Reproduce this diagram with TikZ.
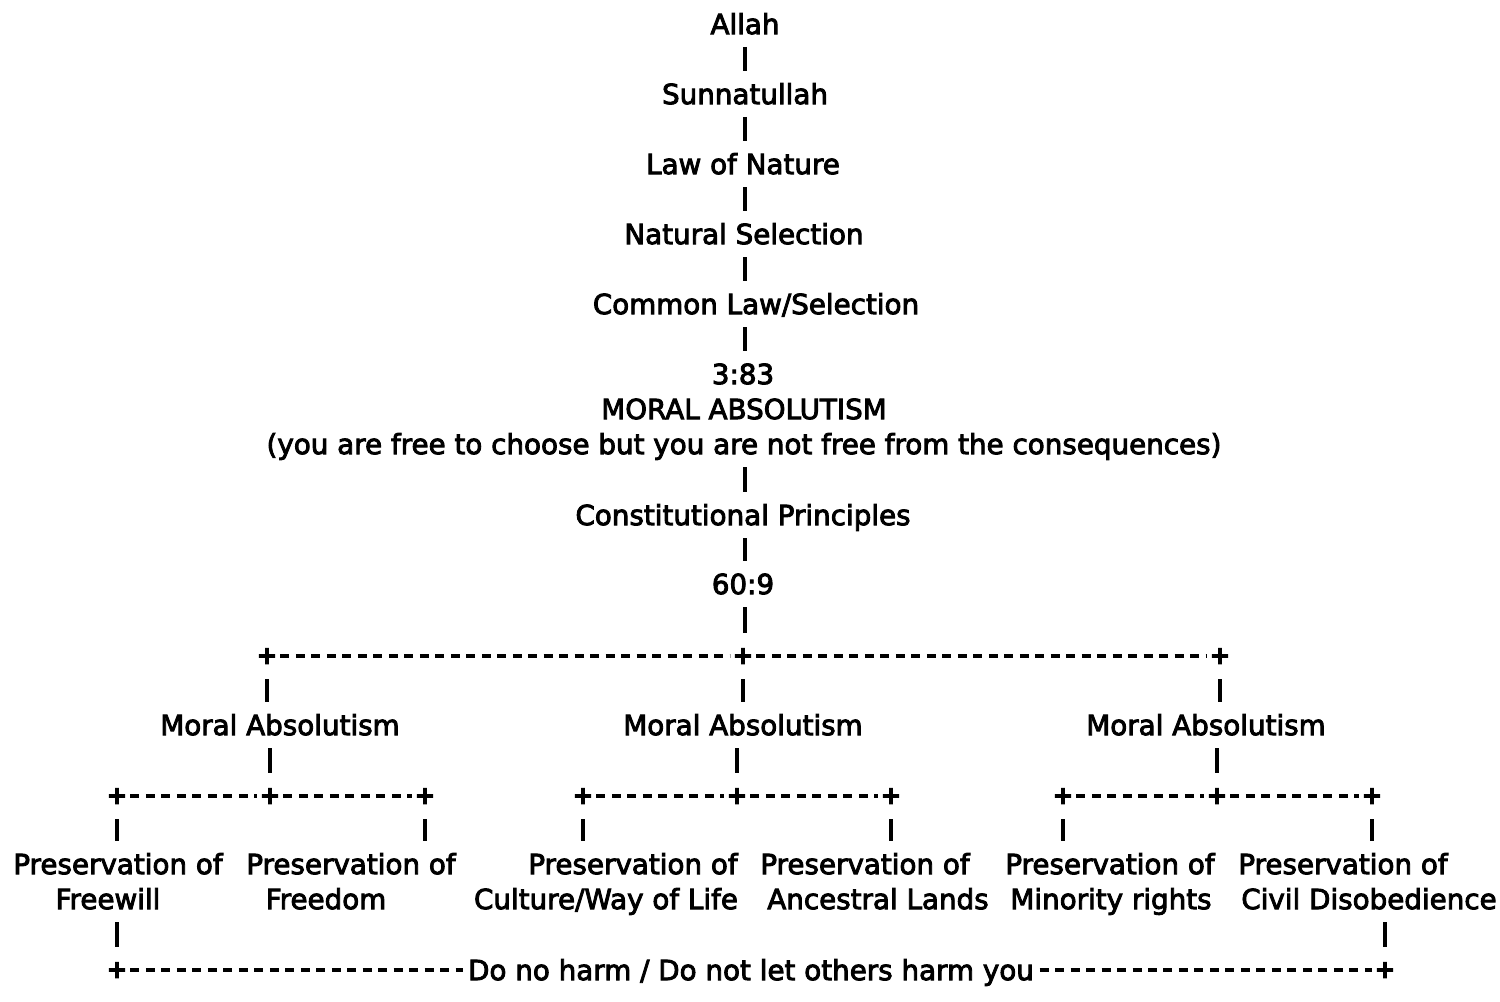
\documentclass[tikz,border=0pt]{standalone}
\usepackage{fontspec}
\setmainfont{DejaVu Sans}
\newfontfamily\heavyfont{DejaVu Sans}
\newfontfamily\plusfont{DejaVu Sans}

\begin{document}
\begin{tikzpicture}[x=0.02cm,y=-0.02cm,
	txt/.style={font=\heavyfont\fontsize{15.8}{19}\selectfont, inner sep=0pt, text height=11.5pt, text depth=0pt,
		execute at begin node={\special{pdf:literal direct 2 Tr 0.5 w}},
		execute at end node={\special{pdf:literal direct 0 Tr}}},
	plus/.style={font=\plusfont\fontsize{14}{14}\selectfont\bfseries, inner sep=1.5pt,
		execute at begin node={\special{pdf:literal direct 2 Tr 0.6 w}},
		execute at end node={\special{pdf:literal direct 0 Tr}}},
	bar/.style={line width=2pt, shorten <=0.46cm, shorten >=0.46cm},
	dashline/.style={line width=2pt, dash pattern=on 0.18cm off 0.13cm}]
				\useasboundingbox (0,0) rectangle (1500,1001);

				% main column
				\node[txt] (allah) at (745,24) {Allah};
				\node[txt] (sunnatullah) at (745,94) {Sunnatullah};
				\node[txt] (nature) at (743,164) {Law of Nature};
				\node[txt] (naturalsel) at (744,234) {Natural Selection};
				\node[txt] (commonlaw) at (756,304) {Common Law/Selection};
				\node[txt] (verseA) at (743,374) {3:83};
				\node[txt] (absolutism) at (744,409) {MORAL ABSOLUTISM};
				\node[txt] (consequences) at (744,444) {(you are free to choose but you are not free from the consequences)};
				\node[txt] (constitution) at (743,515) {Constitutional Principles};
				\node[txt] (verseB) at (743,584) {60:9};

				\foreach \a/\b in {allah/sunnatullah, sunnatullah/nature, nature/naturalsel,
						naturalsel/commonlaw, commonlaw/verseA, consequences/constitution,
						constitution/verseB}
					{
						\draw[bar] (\a.center -| allah.center) -- (\b.center -| allah.center);
					}

				% first split
				\node[plus] (ptl) at (267,656) {+};
				\node[plus] (ptc) at (743,656) {+};
				\node[plus] (ptr) at (1220,656) {+};
				\draw[bar] (verseB.center -| allah.center) -- (ptc.center -| allah.center);
				\draw[dashline] (ptl) -- (ptc) -- (ptr);

				\node[txt] (absl) at (280,725) {Moral Absolutism};
				\node[txt] (absc) at (743,725) {Moral Absolutism};
				\node[txt] (absr) at (1206,725) {Moral Absolutism};

				% second split
				\node[plus] (pla) at (117,796) {+};
				\node[plus] (plb) at (270,796) {+};
				\node[plus] (plc) at (425,796) {+};
				\node[plus] (pca) at (583,796) {+};
				\node[plus] (pcb) at (737,796) {+};
				\node[plus] (pcc) at (891,796) {+};
				\node[plus] (pra) at (1063,796) {+};
				\node[plus] (prb) at (1217,796) {+};
				\node[plus] (prc) at (1372,796) {+};

				\foreach \p/\m/\q in {ptl/absl/plb, ptc/absc/pcb, ptr/absr/prb}
					{
						\draw[bar] (\p.center) -- (\p.center |- \m.center);
						\draw[bar] (\q.center |- \m.center) -- (\q.center);
					}
				\foreach \u/\v/\w in {pla/plb/plc, pca/pcb/pcc, pra/prb/prc}
					\draw[dashline] (\u) -- (\v) -- (\w);

				% preservation of ...
				\node[txt] (presA) at (118,864) {Preservation of};
				\node[txt] (presB) at (351,864) {Preservation of};
				\node[txt] (presC) at (633,864) {Preservation of};
				\node[txt] (presD) at (865,864) {Preservation of};
				\node[txt] (presE) at (1110,864) {Preservation of};
				\node[txt] (presF) at (1343,864) {Preservation of};
				\node[txt] (freewill) at (108,899) {Freewill};
				\node[txt] (freedom) at (326,899) {Freedom};
				\node[txt] (culture) at (606,899) {Culture/Way of Life};
				\node[txt] (lands) at (878,899) {Ancestral Lands};
				\node[txt] (minority) at (1111,899) {Minority rights};
				\node[txt] (disobedience) at (1369,899) {Civil Disobedience};

				\foreach \p/\t in {pla/presA, plc/presB, pca/presC, pcc/presD, pra/presE, prc/presF}
					\draw[bar] (\p.center) -- (\p.center |- \t.center);

				% do no harm
				\node[plus] (pbl) at (117,970) {+};
				\node[plus] (pbr) at (1385,970) {+};
				\node[txt, inner xsep=3pt] (harm) at (751,970) {Do no harm / Do not let others harm you};
				\draw[bar] (pbl.center |- freewill.center) -- (pbl.center);
				\draw[bar] (pbr.center |- disobedience.center) -- (pbr.center);
				\draw[dashline] (pbl) -- (harm) -- (pbr);
			\end{tikzpicture}
\end{document}
